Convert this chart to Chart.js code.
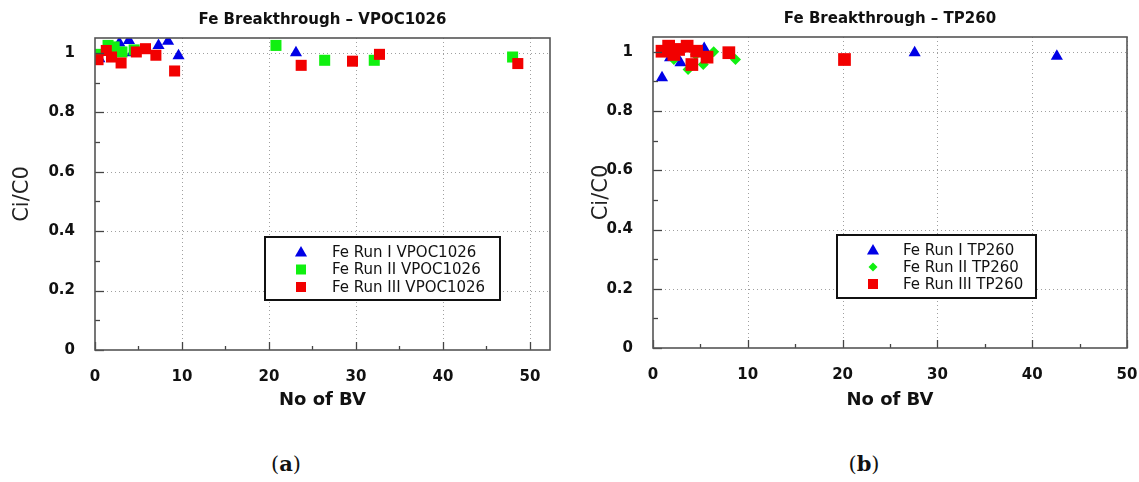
<!DOCTYPE html>
<html>
<head>
<meta charset="utf-8">
<script src="https://cdn.jsdelivr.net/npm/chart.js@4.4.0/dist/chart.umd.min.js"></script>
<style>
  body { margin: 0; background: #fff; width: 1139px; height: 482px; position: relative; overflow: hidden; }
  canvas { position: absolute; top: 0; }
  #grafA { left: 0; }
  #grafB { left: 570px; }
  .legenda { position: absolute; top: 451px; font-family: "DejaVu Serif"; font-size: 21px; color: #111; transform: translateX(-50%); }
</style>
</head>
<body>
<canvas id="grafA" width="570" height="420"></canvas>
<canvas id="grafB" width="569" height="420"></canvas>
<div class="legenda" style="left:286px">(<b>a</b>)</div>
<div class="legenda" style="left:864px">(<b>b</b>)</div>
<script>
// Dados (a) - VPOC1026
var vpocRun1X = [0.5, 2.8, 3.9, 4.3, 7.3, 8.4, 9.6, 23.1];
var vpocRun1Y = [0.98, 1.033, 1.042, 1.0, 1.025, 1.039, 0.99, 1.0];
var vpocRun2X = [0.2, 1.5, 2.2, 3.1, 4.5, 20.8, 26.4, 32.1, 48.0];
var vpocRun2Y = [0.995, 1.025, 1.02, 1.003, 1.01, 1.025, 0.975, 0.975, 0.986];
var vpocRun3X = [0.35, 1.3, 1.9, 3.0, 4.75, 5.8, 7.0, 9.15, 23.7, 29.6, 32.7, 48.6];
var vpocRun3Y = [0.977, 1.008, 0.986, 0.966, 1.003, 1.014, 0.992, 0.939, 0.958, 0.972, 0.995, 0.964];

// Dados (b) - TP260
var tpRun1X = [0.95, 1.8, 2.9, 5.4, 27.6, 42.6];
var tpRun1Y = [0.912, 0.98, 0.963, 1.011, 0.997, 0.985];
var tpRun2X = [1.2, 2.2, 3.7, 4.5, 5.3, 6.4, 8.7];
var tpRun2Y = [1.0, 0.974, 0.94, 0.99, 0.957, 1.0, 0.974];
var tpRun3X = [0.95, 1.65, 2.2, 2.7, 3.6, 4.1, 4.6, 5.7, 8.0, 20.2];
var tpRun3Y = [1.002, 1.019, 0.991, 1.008, 1.019, 0.957, 1.002, 0.982, 0.997, 0.974];

// Rótulos dos eixos
var xTickValues = [0, 10, 20, 30, 40, 50];
var yTickValues = [0, 0.2, 0.4, 0.6, 0.8, 1];

var azul = "#0000e6";
var verde = "#10f010";
var vermelho = "#f20000";

Chart.defaults.font.family = "DejaVu Sans";
Chart.defaults.color = "#111";

function pontos(xs, ys) {
  return xs.map(function (x, i) { return { x: x, y: ys[i] }; });
}

function criarDataset(label, xs, ys, estilo, cor, raio, ordem) {
  return {
    label: label,
    data: pontos(xs, ys),
    pointStyle: estilo,
    pointRadius: raio,
    pointHoverRadius: raio,
    pointBackgroundColor: cor,
    pointBorderWidth: 0,
    backgroundColor: cor,
    order: ordem,
  };
}

// Desenha uma forma de marcador simples (usada só na caixa de legenda)
function desenharMarcador(ctx, estilo, x, y, t) {
  ctx.beginPath();
  if (estilo === "triangle") {
    ctx.moveTo(x, y - t * 0.55);
    ctx.lineTo(x + t * 0.55, y + t * 0.4);
    ctx.lineTo(x - t * 0.55, y + t * 0.4);
  } else if (estilo === "rectRot") {
    ctx.moveTo(x, y - t / 2);
    ctx.lineTo(x + t / 2, y);
    ctx.lineTo(x, y + t / 2);
    ctx.lineTo(x - t / 2, y);
  } else {
    ctx.rect(x - t / 2, y - t / 2, t, t);
  }
  ctx.closePath();
  ctx.fill();
}

// Grade pontilhada, moldura e marcas de escala para dentro
var pluginMoldura = {
  id: "moldura",
  beforeDatasetsDraw: function (chart) {
    var ctx = chart.ctx, a = chart.chartArea;
    var sx = chart.scales.x, sy = chart.scales.y;
    ctx.save();
    ctx.strokeStyle = "#a0a0a0";
    ctx.lineWidth = 1;
    ctx.setLineDash([1, 3]);
    sx.ticks.forEach(function (t) {
      if (t.value <= 0) return;
      var px = Math.round(sx.getPixelForValue(t.value)) + 0.5;
      ctx.beginPath(); ctx.moveTo(px, a.top); ctx.lineTo(px, a.bottom); ctx.stroke();
    });
    sy.ticks.forEach(function (t) {
      if (t.value <= 0) return;
      var py = Math.round(sy.getPixelForValue(t.value)) + 0.5;
      ctx.beginPath(); ctx.moveTo(a.left, py); ctx.lineTo(a.right, py); ctx.stroke();
    });
    ctx.restore();
  },
  afterDatasetsDraw: function (chart) {
    var ctx = chart.ctx, a = chart.chartArea;
    var sx = chart.scales.x, sy = chart.scales.y;
    ctx.save();
    ctx.strokeStyle = "#444";
    ctx.lineWidth = 1.3;
    var i, px, py, len;
    for (i = 0; i * 5 <= sx.max; i++) {
      px = Math.round(sx.getPixelForValue(i * 5)) + 0.5;
      len = i % 2 === 0 ? 8 : 4;
      ctx.beginPath(); ctx.moveTo(px, a.bottom); ctx.lineTo(px, a.bottom - len); ctx.stroke();
    }
    for (i = 0; i * 0.1 <= sy.max; i++) {
      py = Math.round(sy.getPixelForValue(i * 0.1)) + 0.5;
      len = i % 2 === 0 ? 9 : 5;
      ctx.beginPath(); ctx.moveTo(a.left, py); ctx.lineTo(a.left + len, py); ctx.stroke();
    }
    ctx.lineWidth = 1.6;
    ctx.strokeStyle = "#555";
    ctx.strokeRect(a.left, a.top, a.right - a.left, a.bottom - a.top);
    ctx.restore();
  },
  afterDraw: function (chart) {
    var op = chart.options.plugins.caixaLegenda;
    if (!op) return;
    var ctx = chart.ctx;
    ctx.save();
    ctx.fillStyle = "#fff";
    ctx.fillRect(op.x, op.y, op.w, op.h);
    ctx.strokeStyle = "#111";
    ctx.lineWidth = 2;
    ctx.strokeRect(op.x, op.y, op.w, op.h);
    ctx.font = "15px 'DejaVu Sans'";
    ctx.textBaseline = "middle";
    chart.data.datasets.forEach(function (ds, i) {
      var yy = op.y + op.primeiraLinha + i * op.passo;
      ctx.fillStyle = ds.pointBackgroundColor;
      desenharMarcador(ctx, ds.pointStyle, op.x + op.marcadorX, yy, op.tamanhos[i]);
      ctx.fillStyle = "#111";
      ctx.fillText(ds.label, op.x + op.textoX, yy + 1);
    });
    ctx.restore();
  },
};

function criarGrafico(id, titulo, datasets, xMax, padEsq, padDir, largY, altX, padTopoTitulo, legenda) {
  var ctx = document.getElementById(id).getContext("2d");
  return new Chart(ctx, {
    type: "scatter",
    data: { datasets: datasets },
    plugins: [pluginMoldura],
    options: {
      responsive: false,
      animation: false,
      events: [],
      layout: { padding: { left: padEsq, right: padDir, top: 0, bottom: 0 } },
      plugins: {
        legend: { display: false },
        tooltip: { enabled: false },
        title: {
          display: true,
          text: titulo,
          fullSize: false,
          color: "#111",
          font: { size: 15, weight: "bold" },
          padding: { top: padTopoTitulo, bottom: 9 },
        },
        caixaLegenda: legenda,
      },
      scales: {
        x: {
          type: "linear",
          min: 0,
          max: xMax,
          grid: { display: false },
          border: { display: false },
          afterBuildTicks: function (s) { s.ticks = xTickValues.map(function (v) { return { value: v }; }); },
          afterFit: function (s) { s.height = altX; s.paddingLeft = 0; s.paddingRight = 0; },
          ticks: { padding: 10, font: { size: 15, weight: "bold" }, color: "#111" },
          title: {
            display: true,
            text: "No of BV",
            color: "#111",
            font: { size: 18, weight: "bold" },
            padding: { top: 0, bottom: 9 },
          },
        },
        y: {
          type: "linear",
          min: 0,
          max: 1.05,
          grid: { display: false },
          border: { display: false },
          afterBuildTicks: function (s) { s.ticks = yTickValues.map(function (v) { return { value: v }; }); },
          afterFit: function (s) { s.width = largY; },
          ticks: {
            padding: 12,
            font: { size: 15, weight: "bold" },
            color: "#111",
            callback: function (v) { return String(+v.toFixed(1)); },
          },
          title: {
            display: true,
            text: "Ci/C0",
            color: "#222",
            font: { size: 21, weight: "normal" },
            padding: { top: 10, bottom: 0 },
          },
        },
      },
    },
  });
}

criarGrafico(
  "grafA",
  "Fe Breakthrough \u2013 VPOC1026",
  [
    criarDataset("Fe Run I VPOC1026", vpocRun1X, vpocRun1Y, "triangle", azul, 7, 3),
    criarDataset("Fe Run II VPOC1026", vpocRun2X, vpocRun2Y, "rect", verde, 7.8, 2),
    criarDataset("Fe Run III VPOC1026", vpocRun3X, vpocRun3Y, "rect", vermelho, 7.8, 1),
  ],
  52.3, 0, 20, 95, 70, 11,
  { x: 265, y: 237, w: 235, h: 63, primeiraLinha: 15, passo: 17.5, marcadorX: 36, textoX: 67, tamanhos: [11, 10, 10] }
);

criarGrafico(
  "grafB",
  "Fe Breakthrough \u2013 TP260",
  [
    criarDataset("Fe Run I TP260", tpRun1X, tpRun1Y, "triangle", azul, 7, 3),
    criarDataset("Fe Run II TP260", tpRun2X, tpRun2Y, "rectRot", verde, 5.5, 2),
    criarDataset("Fe Run III TP260", tpRun3X, tpRun3Y, "rect", vermelho, 9, 1),
  ],
  50, 9, 12, 74, 72, 10,
  { x: 267, y: 235, w: 199, h: 63, primeiraLinha: 15, passo: 17, marcadorX: 36, textoX: 66, tamanhos: [11, 9, 10] }
);
</script>
</body>
</html>
